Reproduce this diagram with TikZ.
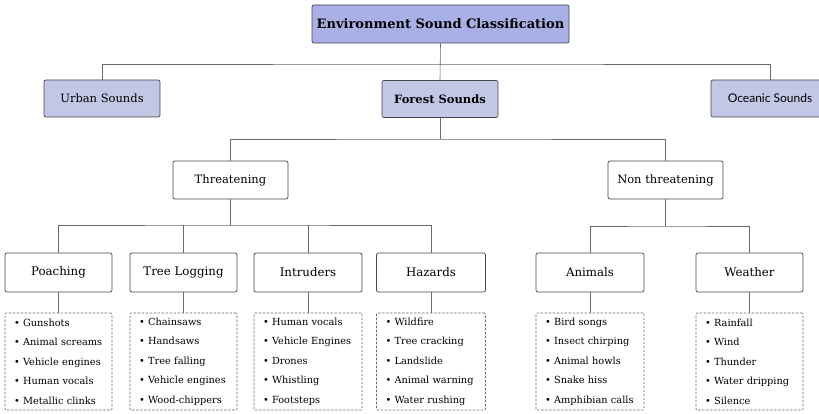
\documentclass[tikz,border=0pt]{standalone}
\usepackage{fontspec}
\setmainfont{DejaVu Serif}
\newfontfamily\oceanfont{Lato}
\definecolor{rootfill}{RGB}{168,176,230}
\definecolor{catfill}{RGB}{194,199,230}
\definecolor{edgegray}{RGB}{70,70,70}
\definecolor{linegray}{RGB}{105,105,105}
\newcommand{\itm}[1]{\mbox{•\ #1}}
\begin{document}
\begin{tikzpicture}[x=1pt,y=-1pt,
  box/.style={draw=edgegray, rounded corners=2pt, line width=0.7pt, inner sep=0pt, align=center, text=black},
  rootbox/.style={box, fill=rootfill, minimum width=257pt, minimum height=38pt, font=\fontsize{13}{15}\selectfont\bfseries},
  catbox/.style={box, fill=catfill, minimum width=116pt, minimum height=37pt, font=\fontsize{11.5}{13}\selectfont},
  subbox/.style={box, fill=white, minimum width=115pt, minimum height=38pt, font=\fontsize{11.5}{13}\selectfont},
  grpbox/.style={box, fill=white, minimum width=107pt, minimum height=39pt, font=\fontsize{11.8}{13}\selectfont},
  leafbox/.style={draw=linegray, dashed, dash pattern=on 2.5pt off 1.5pt, line width=0.6pt, rounded corners=1pt,
     minimum width=107pt, text width=89pt, inner xsep=9pt, inner ysep=0pt, minimum height=97pt, align=left,
     font=\fontsize{9.8}{19.5}\selectfont, text=black},
  conn/.style={draw=linegray, line width=0.6pt}
]
\useasboundingbox (0,0) rectangle (819,414);

% level 0 and 1
\node[rootbox] (root) at (440.5,24) {Environment Sound Classification};
\node[catbox] (urban) at (102,98.5) {Urban Sounds};
\node[catbox, font=\fontsize{11.5}{13}\selectfont\bfseries] (forest) at (440,99) {Forest Sounds};
\node[catbox, minimum width=118pt, font=\oceanfont\fontsize{12}{14}\selectfont] (ocean) at (770,98.5) {Oceanic Sounds};

% level 2
\node[subbox] (thr) at (230.5,180) {Threatening};
\node[subbox] (nthr) at (665.5,180) {Non threatening};

% level 3
\node[grpbox] (poach) at (58.5,272.5) {Poaching};
\node[grpbox] (tree) at (183.5,272.5) {Tree Logging};
\node[grpbox, minimum width=108pt] (intr) at (308,272.5) {Intruders};
\node[grpbox, minimum width=109pt] (haz) at (431,272.5) {Hazards};
\node[grpbox, minimum width=108pt] (anim) at (590,272.5) {Animals};
\node[grpbox] (weath) at (749.5,272.5) {Weather};

% leaves
\node[leafbox] (poachL) at (58.5,361.5) {\itm{Gunshots}\\ \itm{Animal screams}\\ \itm{Vehicle engines}\\ \itm{Human vocals}\\ \itm{Metallic clinks}};
\node[leafbox] (treeL) at (183.5,361.5) {\itm{Chainsaws}\\ \itm{Handsaws}\\ \itm{Tree falling}\\ \itm{Vehicle engines}\\ \itm{Wood-chippers}};
\node[leafbox, text width=90pt] (intrL) at (308,361.5) {\itm{Human vocals}\\ \itm{Vehicle Engines}\\ \itm{Drones}\\ \itm{Whistling}\\ \itm{Footsteps}};
\node[leafbox, text width=91pt] (hazL) at (431,361.5) {\itm{Wildfire}\\ \itm{Tree cracking}\\ \itm{Landslide}\\ \itm{Animal warning}\\ \itm{Water rushing}};
\node[leafbox, text width=90pt] (animL) at (590,361.5) {\itm{Bird songs}\\ \itm{Insect chirping}\\ \itm{Animal howls}\\ \itm{Snake hiss}\\ \itm{Amphibian calls}};
\node[leafbox] (weathL) at (749.5,361.5) {\itm{Rainfall}\\ \itm{Wind}\\ \itm{Thunder}\\ \itm{Water dripping}\\ \itm{Silence}};

% junctions
\coordinate (j0) at (440.5,64);
\coordinate (j1) at (440,139);
\coordinate (j2) at (230.5,225);
\coordinate (j3) at (665.5,226);

% connectors
\draw[conn] (root.south) -- (forest.north);
\draw[conn] (urban.north) |- (j0) -| (ocean.north);
\draw[conn] (forest.south) -- (j1);
\draw[conn] (thr.north) |- (j1) -| (nthr.north);
\draw[conn] (thr.south) -- (j2);
\draw[conn] (poach.north) |- (j2) -| (haz.north);
\draw[conn] (tree.north) -- (tree.north |- j2);
\draw[conn] (intr.north) -- (intr.north |- j2);
\draw[conn] (nthr.south) -- (j3);
\draw[conn] (anim.north) |- (j3) -| (weath.north);
\foreach \a in {poach,tree,intr,haz,anim,weath}
  \draw[conn] (\a.south) -- (\a L.north);
\end{tikzpicture}
\end{document}
